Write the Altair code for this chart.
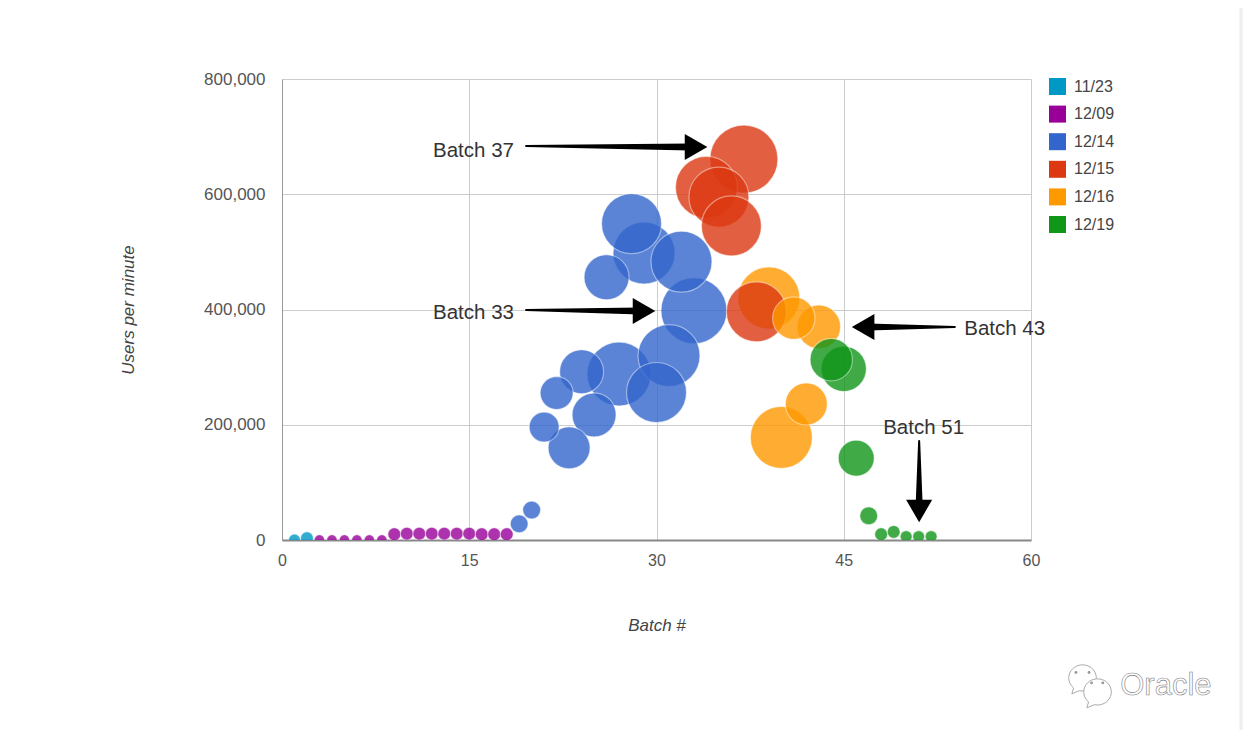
import altair as alt
import pandas as pd

FONT = "Liberation Sans"

batches = list(range(1, 53))
users = [0, 3000, 0, 0, 0, 0, 0, 0, 10000, 11000, 11000, 11000, 11000, 11000, 11000, 10000, 10000, 10000,
         28000, 52000, 196000, 255000, 160000, 292000, 217000, 456000, 288000, 549000, 498000, 256000,
         320000, 483000, 398000, 612000, 595000, 545000, 661000, 396000, 420000, 178000, 385000, 236000,
         370000, 313000, 297000, 142000, 42000, 10000, 14000, 6000, 6000, 6000]
bubble = [144, 169, 110, 110, 110, 110, 110, 110, 169, 169, 169, 169, 169, 169, 169, 169, 169, 169,
          324, 324, 900, 1089, 1764, 1936, 1936, 2025, 4096, 3600, 3844, 3600,
          3844, 3721, 4356, 3844, 3600, 3600, 4624, 3600, 3844, 3844, 1800, 1764,
          1900, 1800, 2050, 1296, 324, 169, 169, 144, 144, 144]
dates = ["11/23"] * 2 + ["12/09"] * 16 + ["12/14"] * 15 + ["12/15"] * 5 + ["12/16"] * 5 + ["12/19"] * 9
date_domain = ["11/23", "12/09", "12/14", "12/15", "12/16", "12/19"]
date_colors = ["#0099c6", "#990099", "#3366cc", "#dc3912", "#ff9900", "#109618"]

note_text = ["Batch 37", "Batch 33", "Batch 43", "Batch 51"]
note_x = [12.1, 12.1, 54.65, 48.16]
note_y = [675000, 394000, 367000, 194000]

shaft_id = ["a", "a", "b", "b", "c", "c", "d", "d"]
shaft_seq = [0, 1, 0, 1, 0, 1, 0, 1]
shaft_x = [19.55, 32.7, 19.55, 28.7, 53.9, 46.95, 51.04, 51.04]
shaft_y = [683700, 682000, 399000, 397400, 369600, 369600, 171800, 60700]
shaft_w = [2, 7, 2, 7, 2, 7, 2, 7]

head_x = [33.17, 29.0, 46.55, 51.04]
head_y = [682000, 397400, 369600, 50300]
head_shape = ["triangle-right", "triangle-right", "triangle-left", "triangle-down"]

df = pd.DataFrame({"batch": batches, "users": users, "bubble": bubble, "date": dates})
notes = pd.DataFrame({"t": note_text, "batch": note_x, "users": note_y})
shafts = pd.DataFrame({"id": shaft_id, "seq": shaft_seq, "batch": shaft_x, "users": shaft_y, "w": shaft_w})
heads = pd.DataFrame({"batch": head_x, "users": head_y, "shape": head_shape})

x_scale = alt.Scale(domain=[0, 60], nice=False, zero=False)
y_scale = alt.Scale(domain=[0, 800000], nice=False)

X = alt.X("batch:Q", scale=x_scale, title="Batch #",
          axis=alt.Axis(values=[0, 15, 30, 45, 60], format="d", grid=True, gridColor="#cccccc", ticks=False,
                        domainColor="#888888", domainWidth=2, labelPadding=12, labelFontSize=16,
                        labelColor="#555555", labelFont=FONT, labelFlush=False, labelOverlap=False,
                        titleFont=FONT, titleFontSize=17, titleFontStyle="italic", titleFontWeight="normal",
                        titleColor="#444444", titlePadding=49))
Y = alt.Y("users:Q", scale=y_scale, title="Users per minute",
          axis=alt.Axis(values=[0, 200000, 400000, 600000, 800000], format=",d", grid=True, gridColor="#cccccc",
                        ticks=False, domainColor="#999999", domainWidth=1, labelPadding=17, labelFontSize=17,
                        labelColor="#555555", labelFont=FONT, labelOverlap=False, labelFlush=False,
                        titleFont=FONT, titleFontSize=17, titleFontStyle="italic", titleFontWeight="normal",
                        titleColor="#444444", titlePadding=66))

bubbles = alt.Chart(df).mark_circle(opacity=0.8, stroke="#ffffff", strokeWidth=1.2, strokeOpacity=0.55,
                                    clip=True).encode(
    x=X, y=Y,
    size=alt.Size("bubble:Q", scale=alt.Scale(domain=[0, 4624], range=[0, 4624]), legend=None),
    color=alt.Color("date:N", scale=alt.Scale(domain=date_domain, range=date_colors),
                    legend=alt.Legend(title=None, orient="none", legendX=767, legendY=-1, symbolType="square",
                                      symbolSize=289, symbolOpacity=1, symbolStrokeWidth=0, rowPadding=10.6,
                                      labelFont=FONT, labelFontSize=16, labelColor="#444444", labelOffset=8)),
    order=alt.Order("bubble:Q", sort="descending"),
)

arrow_shafts = alt.Chart(shafts).mark_trail(color="#000000").encode(
    x=X, y=Y, detail="id:N", order="seq:Q", size=alt.Size("w:Q", scale=None, legend=None))
arrow_heads = alt.Chart(heads).mark_point(filled=True, color="#000000", opacity=1, size=680).encode(
    x=X, y=Y, shape=alt.Shape("shape:N", scale=None, legend=None))
note_labels = alt.Chart(notes).mark_text(align="left", baseline="middle", font=FONT, fontSize=20.5,
                                         color="#333333").encode(x=X, y=Y, text="t:N")

edge_line = alt.Chart(pd.DataFrame({"k": [0]})).mark_rule(color="#eeeeee", strokeWidth=3).encode(
    x=alt.value(959), y=alt.value(-71), y2=alt.value(651))

wechat_x = [64.1, 65.3]
wechat_y = [-239500, -263800]
wechat_dot_x = [63.6, 64.65, 64.85, 65.75]
wechat_dot_y = [-230000, -230000, -248000, -248000]
BUBBLE_PATH = "M-0.62,0.72 A1,0.95 0 1,1 -0.2,0.92 L-0.75,1.15 Z"
wechat = alt.Chart(pd.DataFrame({"batch": wechat_x, "users": wechat_y})).mark_point(
    shape=BUBBLE_PATH, size=760, fill="#ffffff", fillOpacity=1, stroke="#aaaaaa", strokeWidth=1, opacity=1
).encode(x=X, y=Y)
wechat_dots = alt.Chart(pd.DataFrame({"batch": wechat_dot_x, "users": wechat_dot_y})).mark_circle(
    size=8, color="#999999", opacity=1).encode(x=X, y=Y)
watermark = alt.Chart(pd.DataFrame({"batch": [67.15], "users": [-253400], "t": ["Oracle"]})).mark_text(
    align="left", baseline="middle", font=FONT, fontSize=31, fill="#ffffff", stroke="#808080", strokeWidth=0.6
).encode(x=X, y=Y, text="t:N")

chart = alt.layer(
    bubbles, arrow_shafts, arrow_heads, note_labels, edge_line, wechat, wechat_dots, watermark
).resolve_scale(size="independent", shape="independent").properties(
    width=749, height=461,
    autosize=alt.AutoSizeParams(type="none"),
    padding={"left": 274, "top": 71, "right": 213, "bottom": 190},
    background="#ffffff",
).configure_view(stroke=None)

chart.save("out.html", embed_options={"renderer": "svg", "actions": False})
